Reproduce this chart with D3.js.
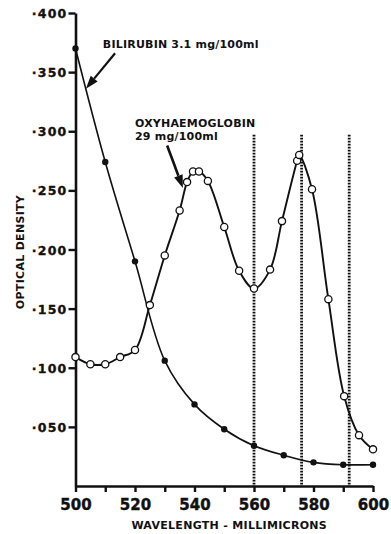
<!DOCTYPE html>
<html>
<head>
<meta charset="utf-8">
<script src="https://cdn.jsdelivr.net/npm/d3@7"></script>
<style>
  body { margin: 0; background: #fff; }
  text { font-family: "DejaVu Sans", sans-serif; font-weight: bold; fill: #111; }
</style>
</head>
<body>
<svg id="chart" width="391" height="534"></svg>
<script>
// Bilirubin 3.1 mg/100ml (filled dots)
const biliWave = [500, 510, 520, 530, 540, 550, 560, 570, 580, 590, 600];
const biliOD   = [0.370, 0.274, 0.190, 0.106, 0.069, 0.048, 0.034, 0.026, 0.020, 0.018, 0.018];

// Oxyhaemoglobin 29 mg/100ml (open circles)
const oxyWave = [500, 505, 510, 515, 520, 525, 530, 535, 537.5, 539.5, 541.5, 544.5,
                 550, 555, 560, 565.4, 569.4, 574.5, 575.2, 579.5, 585, 590.3, 595.3, 600];
const oxyOD   = [0.109, 0.103, 0.103, 0.109, 0.115, 0.153, 0.195, 0.233, 0.257, 0.266, 0.266, 0.258,
                 0.219, 0.182, 0.167, 0.183, 0.224, 0.275, 0.280, 0.251, 0.158, 0.076, 0.043, 0.031];

// dotted reference wavelengths
const markerWaves = [560, 576, 592];

// axis ticks
const yTicks = [0.05, 0.10, 0.15, 0.20, 0.25, 0.30, 0.35, 0.40];
const yTickLabels = ["·050", "·100", "·150", "·200", "·250", "·300", "·350", "·400"];
const xTicks = [500, 510, 520, 530, 540, 550, 560, 570, 580, 590, 600];
const xTickLabels = ["500", "", "520", "", "540", "", "560", "", "580", "", "600"];

const svg = d3.select("#chart");

let x = d3.scaleLinear().domain([500, 600]).range([75.5, 373]);
let y = d3.scaleLinear().domain([0, 0.4]).range([486, 13]);

// dotted verticals
svg.selectAll(".marker")
    .data(markerWaves)
    .enter().append("line")
    .attr("x1", d => x(d)).attr("x2", d => x(d))
    .attr("y1", y(0.297)).attr("y2", y(0))
    .attr("stroke", "#111")
    .attr("stroke-width", 2.8)
    .attr("stroke-dasharray", "1.7,1.3");

// y axis
let yAxis = svg.append("g")
    .attr("transform", "translate(" + x(500) + ",0)")
    .call(d3.axisLeft(y).tickValues(yTicks).tickSize(7)
        .tickFormat((d, i) => yTickLabels[i]).tickSizeOuter(0));
yAxis.select(".domain").attr("stroke", "#111").attr("stroke-width", 2.6);
yAxis.selectAll(".tick line").attr("stroke", "#111").attr("stroke-width", 2.4);
yAxis.selectAll(".tick text")
    .attr("x", -8).attr("dy", "0.36em")
    .attr("stroke", "#111").attr("stroke-width", 0.35)
    .style("font-size", "12.5px").style("letter-spacing", "1.2px")
    .style("font-family", "DejaVu Sans").style("font-weight", "bold");

// x axis
let xAxis = svg.append("g")
    .attr("transform", "translate(0," + y(0) + ")")
    .call(d3.axisBottom(x).tickValues(xTicks).tickSize(6)
        .tickFormat((d, i) => xTickLabels[i]).tickSizeOuter(0));
xAxis.select(".domain").attr("stroke", "#111").attr("stroke-width", 2.6);
xAxis.selectAll(".tick line").attr("stroke", "#111").attr("stroke-width", 2.4);
xAxis.selectAll(".tick text")
    .attr("y", 13)
    .attr("stroke", "#111").attr("stroke-width", 0.4)
    .style("font-size", "15px")
    .style("font-family", "DejaVu Sans").style("font-weight", "bold");

// axis titles
svg.append("text")
    .attr("x", (x(500) + x(600)) / 2 + 5).attr("y", 529)
    .attr("text-anchor", "middle")
    .style("font-size", "11px").style("letter-spacing", "0.3px")
    .text("WAVELENGTH - MILLIMICRONS");

svg.append("text")
    .attr("transform", "translate(24," + 252 + ") rotate(-90)")
    .attr("text-anchor", "middle")
    .style("font-size", "11px").style("letter-spacing", "0.3px")
    .text("OPTICAL DENSITY");

// curves
let bili = biliWave.map((w, i) => ({w: w, v: biliOD[i]}));
let oxy = oxyWave.map((w, i) => ({w: w, v: oxyOD[i]}));

let line = d3.line()
    .x(d => x(d.w))
    .y(d => y(d.v))
    .curve(d3.curveCatmullRom.alpha(0.5));

svg.append("path")
    .datum(bili)
    .attr("fill", "none").attr("stroke", "#111").attr("stroke-width", 1.6)
    .attr("d", line);

svg.append("path")
    .datum(oxy)
    .attr("fill", "none").attr("stroke", "#111").attr("stroke-width", 1.9)
    .attr("d", line);

svg.selectAll(".bdot")
    .data(bili)
    .enter().append("circle")
    .attr("cx", d => x(d.w)).attr("cy", d => y(d.v))
    .attr("r", 3.2).attr("fill", "#111");

svg.selectAll(".odot")
    .data(oxy)
    .enter().append("circle")
    .attr("cx", d => x(d.w)).attr("cy", d => y(d.v))
    .attr("r", 3.6).attr("fill", "#fff")
    .attr("stroke", "#111").attr("stroke-width", 1.3);

// annotations
function arrow(from, to, w) {
    let x1 = x(from[0]), y1 = y(from[1]), x2 = x(to[0]), y2 = y(to[1]);
    let a = Math.atan2(y2 - y1, x2 - x1);
    let len = 13, half = 4.5;
    let bx = x2 - len * Math.cos(a), by = y2 - len * Math.sin(a);
    svg.append("line")
        .attr("x1", x1).attr("y1", y1).attr("x2", bx).attr("y2", by)
        .attr("stroke", "#111").attr("stroke-width", w);
    svg.append("path")
        .attr("d", "M" + x2 + "," + y2 +
            "L" + (bx + half * Math.sin(a)) + "," + (by - half * Math.cos(a)) +
            "L" + (bx - half * Math.sin(a)) + "," + (by + half * Math.cos(a)) + "Z")
        .attr("fill", "#111");
}

svg.append("text")
    .attr("x", x(509.2)).attr("y", 48)
    .style("font-size", "11px").style("letter-spacing", "0.2px")
    .text("BILIRUBIN 3.1 mg/100ml");
arrow([513.3, 0.366], [503.5, 0.336], 2.2);

svg.append("text")
    .attr("x", x(520)).attr("y", 127)
    .style("font-size", "11px").style("letter-spacing", "0.2px")
    .text("OXYHAEMOGLOBIN");
svg.append("text")
    .attr("x", x(520)).attr("y", 140)
    .style("font-size", "11px").style("letter-spacing", "0.2px")
    .text("29 mg/100ml");
arrow([530.8, 0.288], [536.1, 0.252], 2.6);
</script>
</body>
</html>
